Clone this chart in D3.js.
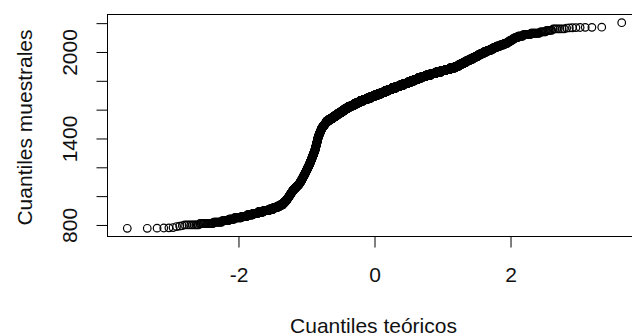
<!DOCTYPE html>
<html>
<head>
<meta charset="utf-8">
<script src="https://cdn.jsdelivr.net/npm/d3@7"></script>
<style>
  html, body { margin: 0; padding: 0; background: #ffffff; }
  svg { display: block; }
  text { font-family: "Liberation Sans", Arial, sans-serif; fill: #111; }
</style>
</head>
<body>
<svg id="chart" width="632" height="336"></svg>
<script>
// Observaciones aisladas del extremo inferior (con su frecuencia)
const valoresBajos = [777, 778, 779, 780, 782, 789, 792, 795];
const frecBajos    = [2, 1, 1, 1, 1, 1, 1, 1];

// Clases de 10 unidades, 800 a 960
const clasesA = [800, 810, 820, 830, 840, 850, 860, 870, 880, 890, 900, 910, 920, 930, 940, 950, 960];
const frecA   = [9, 14, 13, 13, 13, 20, 19, 22, 24, 28, 34, 29, 28, 22, 22, 12, 12];

// Clases de 5 unidades en el tramo de subida rápida, 967 a 1512
const clasesB = [967, 972, 977, 982, 987, 992, 997, 1002, 1007, 1012, 1017, 1022, 1027, 1032, 1037,
  1042, 1047, 1052, 1057, 1062, 1067, 1072, 1077, 1082, 1087, 1092, 1097, 1102, 1107, 1112, 1117,
  1122, 1127, 1132, 1137, 1142, 1147, 1152, 1157, 1162, 1167, 1172, 1177, 1182, 1187, 1192, 1197,
  1202, 1207, 1212, 1217, 1222, 1227, 1232, 1237, 1242, 1247, 1252, 1257, 1262, 1267, 1272, 1277,
  1282, 1287, 1292, 1297, 1302, 1307, 1312, 1317, 1322, 1327, 1332, 1337, 1342, 1347, 1352, 1357,
  1362, 1367, 1372, 1377, 1382, 1387, 1392, 1397, 1402, 1407, 1412, 1417, 1422, 1427, 1432, 1437,
  1442, 1447, 1452, 1457, 1462, 1467, 1472, 1477, 1482, 1487, 1492, 1497, 1502, 1507, 1512];
const frecB   = [6, 6, 4, 5, 4, 5, 5, 4, 5, 4, 5, 5, 4, 5, 4,
  8, 7, 8, 8, 7, 8, 7, 8, 7, 7, 5, 5, 4, 5, 5, 4,
  5, 5, 4, 5, 5, 5, 4, 5, 4, 5, 4, 5, 4, 5, 4, 5,
  4, 5, 4, 5, 4, 4, 4, 4, 4, 4, 4, 4, 3, 4, 4, 4,
  4, 4, 4, 3, 4, 4, 4, 4, 2, 3, 3, 2, 3, 3, 2, 3,
  3, 2, 3, 3, 2, 3, 2, 3, 3, 2, 4, 4, 5, 4, 5, 4,
  5, 4, 5, 4, 5, 4, 8, 9, 8, 9, 9, 8, 9, 9, 8];

// Clases de 10 unidades, 1520 a 2160
const clasesC = [1520, 1530, 1540, 1550, 1560, 1570, 1580, 1590, 1600, 1610, 1620, 1630, 1640, 1650,
  1660, 1670, 1680, 1690, 1700, 1710, 1720, 1730, 1740, 1750, 1760, 1770, 1780, 1790, 1800, 1810,
  1820, 1830, 1840, 1850, 1860, 1870, 1880, 1890, 1900, 1910, 1920, 1930, 1940, 1950, 1960, 1970,
  1980, 1990, 2000, 2010, 2020, 2030, 2040, 2050, 2060, 2070, 2080, 2090, 2100, 2110, 2120, 2130,
  2140, 2150, 2160];
const frecC   = [34, 37, 38, 38, 38, 40, 40, 40, 40, 49, 58, 58, 58, 59,
  74, 76, 76, 76, 75, 74, 73, 74, 73, 76, 78, 78, 75, 64, 63, 64,
  64, 68, 72, 72, 71, 60, 54, 55, 33, 25, 24, 25, 24, 25, 19, 18,
  18, 18, 18, 18, 14, 14, 15, 14, 11, 7, 7, 6, 8, 11, 13, 12,
  6, 5, 7];

// Observaciones aisladas del extremo superior
const valoresAltos = [2166, 2167, 2168, 2169, 2170, 2171, 2172, 2203];
const frecAltos    = [1, 1, 1, 1, 1, 2, 1, 1];

const ticksX = [-2, 0, 2];
const ticksY = [800, 1000, 1200, 1400, 1600, 1800, 2000, 2200];
const etiquetasY = [800, 1400, 2000];

const tituloX = "Cuantiles teóricos";
const tituloY = "Cuantiles muestrales";

// Muestra ordenada a partir de la tabla de frecuencias
const muestra = [];
[[valoresBajos, frecBajos], [clasesA, frecA], [clasesB, frecB], [clasesC, frecC], [valoresAltos, frecAltos]]
  .forEach(([v, f]) => v.forEach((val, i) => { for (let k = 0; k < f[i]; k++) muestra.push(val); }));
muestra.sort((a, b) => a - b);
const n = muestra.length;

// Cuantil de la normal estándar (aproximación racional de Acklam)
function qnorm(p) {
  const a = [-3.969683028665376e+01, 2.209460984245205e+02, -2.759285104469687e+02,
             1.383577518672690e+02, -3.066479806614716e+01, 2.506628277459239e+00];
  const b = [-5.447609879822406e+01, 1.615858368580409e+02, -1.556989798598866e+02,
             6.680131188771972e+01, -1.328068155288572e+01];
  const c = [-7.784894002430293e-03, -3.223964580411365e-01, -2.400758277161838e+00,
             -2.549671010366239e+00, 4.374664141464968e+00, 2.938163982698783e+00];
  const d = [7.784695709041462e-03, 3.224671290700398e-01, 2.445134137142996e+00,
             3.754408661907416e+00];
  const pl = 0.02425, ph = 1 - pl;
  let q, r;
  if (p < pl) {
    q = Math.sqrt(-2 * Math.log(p));
    return (((((c[0]*q+c[1])*q+c[2])*q+c[3])*q+c[4])*q+c[5]) / ((((d[0]*q+d[1])*q+d[2])*q+d[3])*q+1);
  }
  if (p <= ph) {
    q = p - 0.5; r = q * q;
    return (((((a[0]*r+a[1])*r+a[2])*r+a[3])*r+a[4])*r+a[5])*q / (((((b[0]*r+b[1])*r+b[2])*r+b[3])*r+b[4])*r+1);
  }
  q = Math.sqrt(-2 * Math.log(1 - p));
  return -(((((c[0]*q+c[1])*q+c[2])*q+c[3])*q+c[4])*q+c[5]) / ((((d[0]*q+d[1])*q+d[2])*q+d[3])*q+1);
}

// Posiciones de graficado (ppoints) y cuantiles teóricos
const aPP = n <= 10 ? 3 / 8 : 0.5;
const puntos = muestra.map((v, i) => ({
  x: qnorm((i + 1 - aPP) / (n + 1 - 2 * aPP)),
  y: v
}));

// Región de trazado
const plotLeft = 107.5, plotRight = 641.5, plotTop = 14.5, plotBottom = 236.5;

function ampliar([lo, hi]) { const d = (hi - lo) * 0.04; return [lo - d, hi + d]; }

const x = d3.scaleLinear().domain(ampliar(d3.extent(puntos, d => d.x))).range([plotLeft, plotRight]);
const y = d3.scaleLinear().domain(ampliar(d3.extent(puntos, d => d.y))).range([plotBottom, plotTop]);

const svg = d3.select("#chart");

// Puntos (círculos abiertos)
svg.append("g")
  .attr("fill", "none")
  .attr("stroke", "#000")
  .attr("stroke-width", 1.2)
  .selectAll("circle")
  .data(puntos)
  .join("circle")
  .attr("cx", d => x(d.x))
  .attr("cy", d => y(d.y))
  .attr("r", 3.8);

// Marco
svg.append("rect")
  .attr("x", plotLeft).attr("y", plotTop)
  .attr("width", plotRight - plotLeft).attr("height", plotBottom - plotTop)
  .attr("fill", "none").attr("stroke", "#000").attr("stroke-width", 1);

// Eje X
const ejeX = svg.append("g").attr("transform", `translate(0,${plotBottom})`)
  .call(d3.axisBottom(x).tickValues(ticksX).tickSize(11).tickPadding(0).tickFormat(d3.format("d")));
ejeX.select(".domain").remove();
ejeX.selectAll("line").attr("stroke", "#000");
ejeX.selectAll("text")
  .attr("y", 45).attr("dy", null)
  .style("font-size", "21px")
  .text(d => d < 0 ? "-" + Math.abs(d) : String(d));

// Eje Y
const ejeY = svg.append("g").attr("transform", `translate(${plotLeft},0)`)
  .call(d3.axisLeft(y).tickValues(ticksY).tickSize(11).tickFormat(d => etiquetasY.includes(d) ? String(d) : ""));
ejeY.select(".domain").remove();
ejeY.selectAll("line").attr("stroke", "#000");
ejeY.selectAll("text")
  .attr("x", null).attr("dy", null)
  .attr("text-anchor", "middle")
  .attr("transform", "translate(-30.5,0) rotate(-90)")
  .style("font-size", "21px");

// Títulos de los ejes
svg.append("text")
  .attr("x", (plotLeft + plotRight) / 2 - 1).attr("y", 333)
  .attr("text-anchor", "middle")
  .style("font-size", "21px")
  .text(tituloX);

svg.append("text")
  .attr("transform", `translate(32,${(plotTop + plotBottom) / 2 + 2}) rotate(-90)`)
  .attr("text-anchor", "middle")
  .style("font-size", "21px")
  .text(tituloY);
</script>
</body>
</html>
